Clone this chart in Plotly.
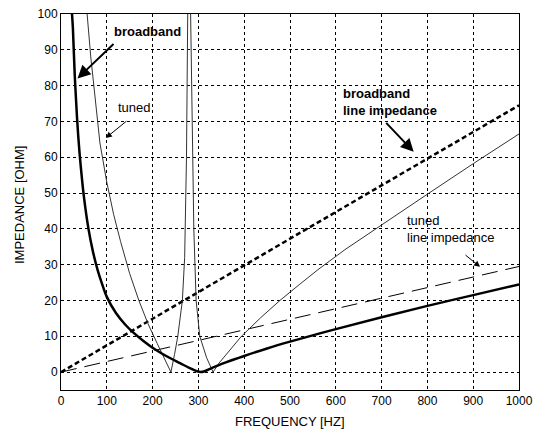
import plotly.graph_objects as go

# ---- data ----
bb_freq = [24, 26, 30, 35, 40, 45, 50, 60, 70, 80, 90, 100, 120, 140, 160, 180,
           200, 220, 240, 260, 280, 305, 330, 360, 400, 450, 500, 600, 700, 800, 900, 1000]
bb_imp = [100, 96, 83, 71, 62, 55, 49, 40, 33.5, 28.5, 24.5, 21, 16.5, 13.3, 10.8, 8.7,
          6.8, 5.2, 3.8, 2.5, 1.2, 0, 1.2, 2.7, 4.5, 6.6, 8.5, 12, 15.3, 18.5, 21.5, 24.5]

tuned_freq = [50, 57, 65, 75, 85, 100, 115, 130, 150, 170, 190, 210, 225, 240,
              248, 255, 265, 270, 274, 276, 278, 280, 283, 286, 290, 295, 303, 318,
              332, 345, 360, 394, 436, 478, 520, 561, 620, 689, 740, 799, 900, 1000]
tuned_imp = [118, 100, 88, 75, 64, 53, 44, 36.5, 27.5, 20, 13.5, 8, 4, 0,
             5, 10, 20, 32, 60, 100, 150, 150, 100, 75, 40, 20, 10, 4,
             0, 2.5, 4.8, 10, 15.2, 20, 24.4, 28.6, 34.2, 40.2, 44.6, 49.6, 58.2, 66.5]

line_freq = [0, 1000]
bb_line_imp = [0, 74.5]
tuned_line_imp = [0, 29.5]

x_ticks = [0, 100, 200, 300, 400, 500, 600, 700, 800, 900, 1000]
y_ticks = [0, 10, 20, 30, 40, 50, 60, 70, 80, 90, 100]

FONT = "Liberation Sans, Arial, sans-serif"

fig = go.Figure()
fig.add_trace(go.Scatter(x=line_freq, y=bb_line_imp, mode="lines",
                         line=dict(color="black", width=2.5, dash="5px,3px")))
fig.add_trace(go.Scatter(x=line_freq, y=tuned_line_imp, mode="lines",
                         line=dict(color="black", width=1, dash="16px,8px")))
fig.add_trace(go.Scatter(x=tuned_freq, y=tuned_imp, mode="lines",
                         line=dict(color="#333333", width=1)))
fig.add_trace(go.Scatter(x=bb_freq, y=bb_imp, mode="lines", line_shape="spline",
                         line=dict(color="black", width=2.5)))

def label(x, y, text, bold=False):
    fig.add_annotation(x=x, y=y, xref="x", yref="y", text=("<b>%s</b>" % text) if bold else text,
                       showarrow=False, xanchor="left", yanchor="middle", align="left",
                       font=dict(family=FONT, size=13, color="black"))

def arrow(x0, y0, x1, y1, width=1, size=1.0):
    fig.add_annotation(x=x1, y=y1, ax=x0, ay=y0, xref="x", yref="y", axref="x", ayref="y",
                       text="", showarrow=True, arrowhead=2, arrowsize=size,
                       arrowwidth=width, arrowcolor="black")

label(112, 95, "broadband", bold=True)
arrow(118, 92, 36, 82, width=2, size=1.3)
label(121, 74, "tuned")
arrow(146, 70.4, 98, 65.4, width=1, size=1.2)
label(612, 75.3, "broadband<br>line impedance", bold=True)
arrow(707, 70, 770, 61.5, width=2, size=1.3)
label(750, 40, "tuned<br>line impedance")
arrow(880, 33, 915, 29.4, width=1, size=1.2)

# axis titles
fig.add_annotation(x=0.5, y=0, xref="paper", yref="paper", yshift=-31,
                   text="FREQUENCY [HZ]", showarrow=False, xanchor="center", yanchor="middle",
                   font=dict(family=FONT, size=13, color="black"))
fig.add_annotation(x=0, y=0.5, xref="paper", yref="paper", xshift=-42, yshift=-3,
                   text="IMPEDANCE [OHM]", showarrow=False, textangle=-90,
                   xanchor="center", yanchor="middle",
                   font=dict(family=FONT, size=13, color="black"))

axis_common = dict(showline=True, linecolor="black", linewidth=1, mirror=True,
                   showgrid=True, gridcolor="black", gridwidth=1, griddash="3px,3px",
                   zeroline=False, ticks="", automargin=False,
                   tickfont=dict(family=FONT, size=12, color="black"))
fig.update_xaxes(range=[0, 1000], tickvals=x_ticks, **axis_common)
fig.update_yaxes(range=[-5, 100], tickvals=y_ticks, **axis_common)
fig.update_layout(width=542, height=430, margin=dict(l=61, r=23, t=14, b=40),
                  paper_bgcolor="white", plot_bgcolor="white", showlegend=False)
fig.write_html("out.html", config={"displayModeBar": False},
               post_script="document.body.style.margin='0px';document.body.style.overflow='hidden';")
